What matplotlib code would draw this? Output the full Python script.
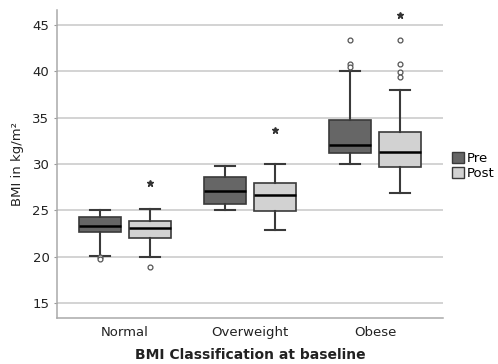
import matplotlib.pyplot as plt
from matplotlib.patches import Patch

categories = ["Normal", "Overweight", "Obese"]
groups = ["Pre", "Post"]

# box statistics per (category, group)
q1 = {"Pre": [22.6, 25.65, 31.2], "Post": [22.0, 24.9, 29.65]}
medians = {"Pre": [23.25, 27.1, 32.0], "Post": [23.1, 26.6, 31.3]}
q3 = {"Pre": [24.3, 28.6, 34.7], "Post": [23.8, 27.9, 33.4]}
whisk_lo = {"Pre": [20.1, 25.0, 30.0], "Post": [19.9, 22.9, 26.8]}
whisk_hi = {"Pre": [25.0, 29.8, 40.0], "Post": [25.1, 30.0, 38.0]}
outliers = {
    "Pre": [[20.0, 19.75], [], [43.4, 40.8, 40.5]],
    "Post": [[18.9], [], [43.4, 40.8, 39.9, 39.4]],
}
extremes = {"Pre": [[], [], []], "Post": [[27.9], [33.6], [46.1]]}

colors = {"Pre": "#666666", "Post": "#d2d2d2"}
offsets = {"Pre": -0.2, "Post": 0.2}
edge = "#3a3a3a"

fig = plt.figure(figsize=(4.98, 3.64), dpi=100)
ax = fig.add_axes([0.1145, 0.126, 0.775, 0.8465])

for g in groups:
    stats = []
    for i in range(len(categories)):
        stats.append({
            "med": medians[g][i], "q1": q1[g][i], "q3": q3[g][i],
            "whislo": whisk_lo[g][i], "whishi": whisk_hi[g][i],
            "fliers": outliers[g][i],
        })
    pos = [i + offsets[g] for i in range(len(categories))]
    ax.bxp(
        stats, positions=pos, widths=0.33, patch_artist=True,
        boxprops=dict(facecolor=colors[g], edgecolor=edge, linewidth=1.2),
        medianprops=dict(color="black", linewidth=1.8),
        whiskerprops=dict(color=edge, linewidth=1.5),
        capprops=dict(color=edge, linewidth=1.5),
        capwidths=0.16,
        flierprops=dict(marker="o", markersize=3.5, markerfacecolor="white",
                        markeredgecolor="#555555", markeredgewidth=0.9),
        zorder=3,
    )
    for i, vals in enumerate(extremes[g]):
        if vals:
            ax.plot([pos[i]] * len(vals), vals, linestyle="none", marker="*",
                    markersize=5, color="#333333", zorder=4)

ax.set_xlim(-0.544, 2.544)
ax.set_ylim(13.35, 46.6)
ax.set_yticks([15, 20, 25, 30, 35, 40, 45])
ax.set_xticks(range(len(categories)))
ax.set_xticklabels(categories, fontsize=9.5, color="#222222")
ax.tick_params(axis="y", labelsize=9.5, length=2, color="#999999", labelcolor="#222222")
ax.tick_params(axis="x", length=0, pad=6)
ax.yaxis.grid(True, color="#c8c8c8", linewidth=1.1, zorder=0)
ax.set_axisbelow(True)

for side in ["top", "right"]:
    ax.spines[side].set_visible(False)
ax.spines["left"].set_color("#aaaaaa")
ax.spines["bottom"].set_color("#aaaaaa")
ax.spines["left"].set_linewidth(1.1)
ax.spines["bottom"].set_linewidth(1.1)

ax.set_ylabel("BMI in kg/m²", fontsize=9.5, color="#222222", labelpad=6)
ax.set_xlabel("BMI Classification at baseline", fontsize=10, fontweight="bold",
              color="#222222", labelpad=6)

handles = [Patch(facecolor=colors[g], edgecolor=edge, label=g) for g in groups]
fig.legend(handles=handles, loc="center left", bbox_to_anchor=(0.895, 0.545),
           frameon=False, fontsize=9.5, handlelength=0.9, handleheight=0.9,
           handletextpad=0.2, labelspacing=0.15, borderpad=0)

fig.savefig("out.png", dpi=100)
